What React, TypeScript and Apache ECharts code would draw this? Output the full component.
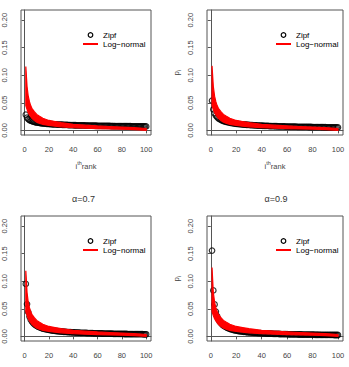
import React, { useEffect, useRef } from "react";
import * as echarts from "echarts";

const FONT = "'Liberation Sans', Arial, Helvetica, sans-serif";

// rank index (x) 1..100
const ranks: number[] = Array.from({ length: 100 }, (_, i) => i + 1);

const xTicks = [0, 20, 40, 60, 80, 100];
const yTicks = [0, 0.05, 0.1, 0.15, 0.2];

const panelTitles = ["", "", "α=0.7", "α=0.9"];

// Zipf probabilities p_i
const zipf03 = [
  0.0285, 0.0231, 0.0205, 0.0188, 0.0176, 0.0166, 0.0159, 0.0153, 0.0147, 0.0143,
  0.0139, 0.0135, 0.0132, 0.0129, 0.0126, 0.0124, 0.0122, 0.012, 0.0118, 0.0116,
  0.0114, 0.0113, 0.0111, 0.011, 0.0108, 0.0107, 0.0106, 0.0105, 0.0104, 0.0103,
  0.0102, 0.0101, 0.01, 0.0099, 0.0098, 0.0097, 0.0096, 0.0096, 0.0095, 0.0094,
  0.0093, 0.0093, 0.0092, 0.0092, 0.0091, 0.009, 0.009, 0.0089, 0.0089, 0.0088,
  0.0088, 0.0087, 0.0087, 0.0086, 0.0086, 0.0085, 0.0085, 0.0084, 0.0084, 0.0083,
  0.0083, 0.0083, 0.0082, 0.0082, 0.0081, 0.0081, 0.0081, 0.008, 0.008, 0.008,
  0.0079, 0.0079, 0.0079, 0.0078, 0.0078, 0.0078, 0.0077, 0.0077, 0.0077, 0.0077,
  0.0076, 0.0076, 0.0076, 0.0075, 0.0075, 0.0075, 0.0075, 0.0074, 0.0074, 0.0074,
  0.0074, 0.0073, 0.0073, 0.0073, 0.0073, 0.0072, 0.0072, 0.0072, 0.0072, 0.0072,
];
const zipf05 = [
  0.0538, 0.038, 0.0311, 0.0269, 0.0241, 0.022, 0.0203, 0.019, 0.0179, 0.017,
  0.0162, 0.0155, 0.0149, 0.0144, 0.0139, 0.0134, 0.013, 0.0127, 0.0123, 0.012,
  0.0117, 0.0115, 0.0112, 0.011, 0.0108, 0.0105, 0.0104, 0.0102, 0.01, 0.0098,
  0.0097, 0.0095, 0.0094, 0.0092, 0.0091, 0.009, 0.0088, 0.0087, 0.0086, 0.0085,
  0.0084, 0.0083, 0.0082, 0.0081, 0.008, 0.0079, 0.0078, 0.0078, 0.0077, 0.0076,
  0.0075, 0.0075, 0.0074, 0.0073, 0.0073, 0.0072, 0.0071, 0.0071, 0.007, 0.0069,
  0.0069, 0.0068, 0.0068, 0.0067, 0.0067, 0.0066, 0.0066, 0.0065, 0.0065, 0.0064,
  0.0064, 0.0063, 0.0063, 0.0063, 0.0062, 0.0062, 0.0061, 0.0061, 0.0061, 0.006,
  0.006, 0.0059, 0.0059, 0.0059, 0.0058, 0.0058, 0.0058, 0.0057, 0.0057, 0.0057,
  0.0056, 0.0056, 0.0056, 0.0055, 0.0055, 0.0055, 0.0055, 0.0054, 0.0054, 0.0054,
];
const zipf07 = [
  0.0951, 0.0586, 0.0441, 0.036, 0.0308, 0.0271, 0.0244, 0.0222, 0.0204, 0.019,
  0.0178, 0.0167, 0.0158, 0.015, 0.0143, 0.0137, 0.0131, 0.0126, 0.0121, 0.0117,
  0.0113, 0.0109, 0.0106, 0.0103, 0.01, 0.0097, 0.0095, 0.0092, 0.009, 0.0088,
  0.0086, 0.0084, 0.0082, 0.0081, 0.0079, 0.0077, 0.0076, 0.0075, 0.0073, 0.0072,
  0.0071, 0.007, 0.0068, 0.0067, 0.0066, 0.0065, 0.0064, 0.0063, 0.0062, 0.0062,
  0.0061, 0.006, 0.0059, 0.0058, 0.0058, 0.0057, 0.0056, 0.0055, 0.0055, 0.0054,
  0.0054, 0.0053, 0.0052, 0.0052, 0.0051, 0.0051, 0.005, 0.005, 0.0049, 0.0049,
  0.0048, 0.0048, 0.0047, 0.0047, 0.0046, 0.0046, 0.0045, 0.0045, 0.0045, 0.0044,
  0.0044, 0.0043, 0.0043, 0.0043, 0.0042, 0.0042, 0.0042, 0.0041, 0.0041, 0.0041,
  0.004, 0.004, 0.004, 0.004, 0.0039, 0.0039, 0.0039, 0.0038, 0.0038, 0.0038,
];
const zipf09 = [
  0.1556, 0.0834, 0.0579, 0.0447, 0.0365, 0.031, 0.027, 0.0239, 0.0215, 0.0196,
  0.018, 0.0166, 0.0155, 0.0145, 0.0136, 0.0128, 0.0122, 0.0115, 0.011, 0.0105,
  0.0101, 0.0096, 0.0093, 0.0089, 0.0086, 0.0083, 0.008, 0.0078, 0.0075, 0.0073,
  0.0071, 0.0069, 0.0067, 0.0065, 0.0063, 0.0062, 0.006, 0.0059, 0.0058, 0.0056,
  0.0055, 0.0054, 0.0053, 0.0052, 0.0051, 0.005, 0.0049, 0.0048, 0.0047, 0.0046,
  0.0045, 0.0044, 0.0044, 0.0043, 0.0042, 0.0042, 0.0041, 0.004, 0.004, 0.0039,
  0.0038, 0.0038, 0.0037, 0.0037, 0.0036, 0.0036, 0.0035, 0.0035, 0.0034, 0.0034,
  0.0034, 0.0033, 0.0033, 0.0032, 0.0032, 0.0032, 0.0031, 0.0031, 0.003, 0.003,
  0.003, 0.0029, 0.0029, 0.0029, 0.0029, 0.0028, 0.0028, 0.0028, 0.0027, 0.0027,
  0.0027, 0.0027, 0.0026, 0.0026, 0.0026, 0.0026, 0.0025, 0.0025, 0.0025, 0.0025,
];
const zipfSets = [zipf03, zipf05, zipf07, zipf09];

// Log-normal curves: envelope of the red bundle
const lnRanks = [1, 2, 3, 4, 5, 6, 8, 10, 12, 15, 20, 25, 30, 40, 50, 60, 70, 80, 90, 100];
const lnUpper = [0.117, 0.08, 0.062, 0.052, 0.045, 0.04, 0.034, 0.029, 0.026, 0.022, 0.018, 0.016, 0.014, 0.011, 0.0095, 0.008, 0.007, 0.006, 0.005, 0.0035];
const lnLower = [0.045, 0.038, 0.032, 0.028, 0.025, 0.022, 0.018, 0.015, 0.013, 0.011, 0.009, 0.0075, 0.0065, 0.005, 0.004, 0.003, 0.0025, 0.002, 0.0012, 0.0];
const lnPeak = [0.116, 0.117, 0.119, 0.125];

const GRIDS = [
  { left: 14, top: 10, width: 137 },
  { left: 207, top: 10, width: 136 },
  { left: 14, top: 216, width: 137 },
  { left: 207, top: 216, width: 136 },
];
const GH = 125;
const LINE = "#555";
const TXT = "#444";

export default function App() {
  const ref = useRef<HTMLDivElement>(null);

  useEffect(() => {
    if (!ref.current) return;
    const chart = echarts.init(ref.current, undefined, { renderer: "svg" });

    const grid: any[] = [];
    const xAxis: any[] = [];
    const yAxis: any[] = [];
    const series: any[] = [];
    const graphic: any[] = [];

    GRIDS.forEach((g, k) => {
      grid.push({
        left: g.left,
        top: g.top,
        width: g.width,
        height: GH,
        show: true,
        borderColor: LINE,
        borderWidth: 1,
        backgroundColor: "transparent",
      });
      const showXName = k < 2;
      const showYName = k % 2 === 1;
      xAxis.push({
        type: "value",
        gridIndex: k,
        min: -2.96,
        max: 103.96,
        offset: 3,
        axisLine: { show: true, lineStyle: { color: LINE, width: 1 } },
        axisTick: { show: true, customValues: xTicks, length: 3, lineStyle: { color: LINE, width: 1 } },
        axisLabel: {
          customValues: xTicks,
          fontSize: 7.5,
          color: TXT,
          fontFamily: FONT,
          margin: 7,
        },
        splitLine: { show: false },
        name: showXName ? "{i|i}{s|th}{r|rank}" : "",
        nameLocation: "middle",
        nameGap: 22,
        nameTextStyle: {
          rich: {
            i: { fontSize: 7.5, color: TXT, fontFamily: FONT, lineHeight: 10, verticalAlign: "bottom" },
            s: { fontSize: 5.5, color: TXT, fontFamily: FONT, lineHeight: 10, verticalAlign: "top" },
            r: { fontSize: 7.5, color: TXT, fontFamily: FONT, lineHeight: 10, verticalAlign: "bottom" },
          },
        },
      });
      yAxis.push({
        type: "value",
        gridIndex: k,
        min: -0.0084,
        max: 0.2184,
        offset: 2,
        axisLine: { show: true, lineStyle: { color: LINE, width: 1 } },
        axisTick: { show: true, customValues: yTicks, length: 3, lineStyle: { color: LINE, width: 1 } },
        axisLabel: {
          customValues: yTicks,
          rotate: 90,
          fontSize: 7.5,
          color: TXT,
          fontFamily: FONT,
          margin: 11,
          formatter: (v: number) => v.toFixed(2),
        },
        splitLine: { show: false },
        name: showYName ? "{p|p}{s|i}" : "",
        nameLocation: "middle",
        nameRotate: 90,
        nameGap: 23,
        nameTextStyle: {
          rich: {
            p: { fontSize: 8, color: TXT, fontFamily: FONT, lineHeight: 10, verticalAlign: "top" },
            s: { fontSize: 6, color: TXT, fontFamily: FONT, lineHeight: 10, verticalAlign: "bottom" },
          },
        },
      });

      const zipf = zipfSets[k];
      series.push({
        type: "scatter",
        name: "Zipf",
        xAxisIndex: k,
        yAxisIndex: k,
        symbol: "circle",
        symbolSize: 5.5,
        z: 2,
        silent: true,
        itemStyle: { color: "rgba(0,0,0,0)", borderColor: "#000", borderWidth: 1.2 },
        data: ranks.map((r, i) => [r, zipf[i]]),
      });
      const peak = lnPeak[k];
      series.push({
        type: "custom",
        name: "Log−normal",
        xAxisIndex: k,
        yAxisIndex: k,
        z: 3,
        silent: true,
        data: [[lnRanks[0], lnLower[0]]],
        renderItem: (_params: any, api: any) => {
          const up = lnRanks.map((r, j) => api.coord([r, j === 0 ? peak : lnUpper[j]]));
          const lo = lnRanks.map((r, j) => api.coord([r, lnLower[j]])).reverse();
          return {
            type: "polygon",
            shape: { points: up.concat(lo) },
            style: { fill: "#ff0000", stroke: "#ff0000", lineWidth: 1.2 },
          };
        },
      });

      // legend
      const L = g.left;
      const T = g.top;
      graphic.push(
        {
          type: "circle",
          shape: { cx: L + 76.5, cy: T + 25, r: 2.3 },
          style: { fill: "none", stroke: "#000", lineWidth: 1.2 },
        },
        {
          type: "line",
          shape: { x1: L + 69, y1: T + 34, x2: L + 84, y2: T + 34 },
          style: { stroke: "#ff0000", lineWidth: 2 },
        },
        {
          type: "text",
          x: L + 89,
          y: T + 25,
          style: { text: "Zipf", fontSize: 8, fontFamily: FONT, fill: "#000", verticalAlign: "middle", align: "left" },
        },
        {
          type: "text",
          x: L + 89,
          y: T + 34,
          style: { text: "Log−normal", fontSize: 8, fontFamily: FONT, fill: "#000", verticalAlign: "middle", align: "left" },
        }
      );
      if (panelTitles[k]) {
        graphic.push({
          type: "text",
          x: L + g.width / 2 + 1,
          y: T - 17,
          style: {
            text: panelTitles[k],
            fontSize: 9,
            fontFamily: FONT,
            fill: "#333",
            align: "center",
            verticalAlign: "middle",
          },
        });
      }
    });

    chart.setOption({
      animation: false,
      backgroundColor: "#ffffff",
      grid,
      xAxis,
      yAxis,
      series,
      graphic,
    });

    return () => {
      chart.dispose();
    };
  }, []);

  return (
    <div
      ref={ref}
      style={{ position: "fixed", left: 0, top: 0, width: 349, height: 367, background: "#fff" }}
    />
  );
}
